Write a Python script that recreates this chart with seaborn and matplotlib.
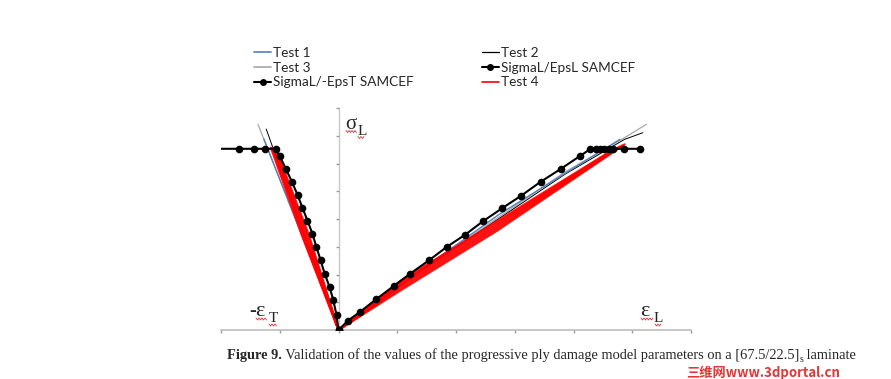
import numpy as np
import pandas as pd
import seaborn as sns
import matplotlib
matplotlib.use("Agg")
import matplotlib.pyplot as plt
from matplotlib.lines import Line2D

# ---------------- data ----------------
# SAMCEF model, sigma_L vs -eps_T (left branch)
samcef_T_x = [-2.0, -1.70, -1.43, -1.25, -1.06, -1.00, -0.895, -0.793, -0.697,
              -0.613, -0.528, -0.444, -0.376, -0.304, -0.236, -0.152, -0.089,
              -0.034, 0.0]
samcef_T_y = [6.53, 6.53, 6.53, 6.53, 6.53, 6.27, 5.80, 5.34, 4.87,
              4.40, 3.94, 3.47, 2.99, 2.51, 2.03, 1.55, 1.08,
              0.54, 0.0]
# SAMCEF model, sigma_L vs eps_L (right branch)
samcef_L_x = [0.0, 0.157, 0.371, 0.636, 0.945, 1.22, 1.54, 1.84, 2.16, 2.46,
              2.78, 3.11, 3.44, 3.78, 4.11, 4.28, 4.38, 4.45, 4.52, 4.60,
              4.67, 4.86, 5.14]
samcef_L_y = [0.0, 0.33, 0.66, 1.10, 1.59, 2.03, 2.51, 2.99, 3.44, 3.92,
              4.38, 4.84, 5.34, 5.80, 6.27, 6.51, 6.53, 6.53, 6.53, 6.53,
              6.53, 6.53, 6.53]

# Tests (left branch -> origin -> right branch)
test1_x = [-1.27, -0.62, 0.0, 1.35, 2.73, 4.79]
test1_y = [6.88, 3.40, 0.0, 2.08, 4.16, 6.87]
test2_x = [-1.23, -0.60, 0.0, 1.35, 3.86, 4.87, 5.18]
test2_y = [7.24, 3.50, 0.0, 2.05, 5.62, 6.87, 7.11]
test3_x = [-1.37, -0.66, 0.0, 1.35, 3.86, 4.87, 5.24]
test3_y = [7.41, 3.60, 0.0, 2.08, 5.70, 6.93, 7.41]
# Test 4 : several specimens drawn in red
test4_x = [[-1.15, -0.62, 0.0, 1.05, 2.70, 4.87],
           [-1.13, -0.595, 0.0, 1.05, 2.70, 4.83],
           [-1.11, -0.57, 0.0, 1.05, 2.70, 4.79],
           [-1.09, -0.545, 0.0, 1.05, 2.70, 4.75],
           [-1.07, -0.52, 0.0, 1.05, 2.70, 4.71],
           [-1.05, -0.50, 0.0, 1.05, 2.70, 4.67]]
test4_y = [[6.57, 3.40, 0.0, 1.42, 3.58, 6.69],
           [6.55, 3.40, 0.0, 1.49, 3.65, 6.65],
           [6.53, 3.40, 0.0, 1.56, 3.72, 6.61],
           [6.50, 3.40, 0.0, 1.63, 3.79, 6.57],
           [6.47, 3.40, 0.0, 1.70, 3.86, 6.53],
           [6.44, 3.40, 0.0, 1.76, 3.92, 6.49]]

x_ticks = [-2, -1, 0, 1, 2, 3, 4, 5, 6]
y_ticks = [1, 2, 3, 4, 5, 6, 7, 8]

# ---------------- figure ----------------
sns.set_theme(style="white")
plt.rcParams['font.family'] = ['Lato', 'DejaVu Sans']

W, H = 891, 379
fig = plt.figure(figsize=(W / 100, H / 100), dpi=100)
fx = lambda px: px / W
fy = lambda py: 1 - py / H

ax = fig.add_axes([fx(221), fy(330), fx(691) - fx(221), fy(108) - fy(330)])

BLUE = "#4F81BD"
GRAY = "#A6A6A6"
RED = "#FF0000"

for i, (xs, ys) in enumerate(zip(test4_x, test4_y)):
    sns.lineplot(x=xs, y=ys, sort=False, estimator=None, ax=ax, color=RED,
                 lw=1.6, alpha=0.9, zorder=3)
sns.lineplot(x=test3_x, y=test3_y, sort=False, estimator=None, ax=ax,
             color=GRAY, lw=0.9, zorder=2)
sns.lineplot(x=test2_x, y=test2_y, sort=False, estimator=None, ax=ax,
             color="black", lw=0.7, zorder=2)
sns.lineplot(x=test1_x, y=test1_y, sort=False, estimator=None, ax=ax,
             color=BLUE, lw=1.0, zorder=2)
sns.lineplot(x=samcef_T_x, y=samcef_T_y, sort=False, estimator=None, ax=ax,
             color="black", lw=1.5, marker="o", markersize=5.5,
             markeredgewidth=0, markevery=list(range(1, len(samcef_T_x))),
             zorder=4)
sns.lineplot(x=samcef_L_x, y=samcef_L_y, sort=False, estimator=None, ax=ax,
             color="black", lw=1.5, marker="o", markersize=5.5,
             markeredgewidth=0, zorder=4)

ax.set_xlim(-2, 6)
ax.set_ylim(0, 8)
ax.set_xticks(x_ticks)
ax.set_yticks(y_ticks)
ax.set_xticklabels([])
ax.set_yticklabels([])
ax.set_xlabel("")
ax.set_ylabel("")
for s in ["top", "right"]:
    ax.spines[s].set_visible(False)
ax.spines["left"].set_position(("data", 0))
ax.spines["left"].set_color("#C8C8C8")
ax.spines["bottom"].set_color("#BDBDBD")
ax.spines["left"].set_linewidth(1.0)
ax.spines["bottom"].set_linewidth(1.2)
ax.spines["left"].set_zorder(0)
ax.tick_params(axis="both", direction="out", length=2, width=1,
               color="#9A9A9A", bottom=True, left=True)
ax.set_facecolor("none")

# ---------------- legend ----------------
h = lambda **kw: Line2D([], [], **kw)
handles = [h(color=BLUE, lw=1.2),
           h(color=GRAY, lw=1.2),
           h(color="black", lw=1.5, marker="o", markersize=5, markeredgewidth=0),
           h(color="black", lw=0.9),
           h(color="black", lw=1.5, marker="o", markersize=5, markeredgewidth=0),
           h(color=RED, lw=1.2)]
labels = ["Test 1", "Test 3", "SigmaL/-EpsT SAMCEF",
          "Test 2", "SigmaL/EpsL SAMCEF", "Test 4"]
fig.legend(handles, labels, ncol=2, loc="upper left",
           bbox_to_anchor=(fx(254), fy(47)), frameon=False, borderpad=0,
           fontsize=9.8, handlelength=1.25, handletextpad=0.15,
           labelspacing=0.2, columnspacing=5.0, borderaxespad=0)

# ---------------- axis symbols ----------------
serif = "Liberation Serif"
fig.text(fx(345), fy(128.5), "σ", family=serif, fontsize=15, va="baseline")
fig.text(fx(358), fy(135), "L", family=serif, fontsize=11, va="baseline")
fig.text(fx(249), fy(316.5), "-", family=serif, fontsize=15, va="baseline",
         weight="bold")
fig.text(fx(255), fy(316.5), "ε", family=serif, fontsize=16, va="baseline")
fig.text(fx(269), fy(322.5), "T", family=serif, fontsize=11, va="baseline")
fig.text(fx(640), fy(316.5), "ε", family=serif, fontsize=16, va="baseline")
fig.text(fx(654), fy(322.5), "L", family=serif, fontsize=11, va="baseline")


def wavy(x0, x1, y, amp=1.0):
    xs = np.arange(x0, x1 + 0.1, 1.5)
    ys = [y + (amp if k % 2 else -amp) for k in range(len(xs))]
    fig.add_artist(Line2D([fx(v) for v in xs], [fy(v) for v in ys],
                          transform=fig.transFigure, color="#E03030", lw=0.6))


wavy(346, 357, 131.5)
wavy(358, 365, 137.5)
wavy(256, 267, 319)
wavy(269, 277, 325)
wavy(641, 653, 319)
wavy(655, 662, 325)

# ---------------- caption ----------------
renderer = fig.canvas.get_renderer()
cap_pieces = [("Figure 9.", dict(weight="bold"), 1.0, 0),
              (" Validation of the values of the progressive ply damage "
               "model parameters on a [67.5/22.5]", dict(), 1.0, 0),
              ("s", dict(), 0.7, 3),
              (" laminate", dict(), 1.0, 0)]


def chain(x_px, y_px, base_fs):
    x = fx(x_px)
    made = []
    for txt, kw, rel, dy in cap_pieces:
        t = fig.text(x, fy(y_px + dy), txt, family=serif, va="baseline",
                     fontsize=base_fs * rel, **kw)
        made.append(t)
        bb = t.get_window_extent(renderer=renderer)
        x = fig.transFigure.inverted().transform((bb.x1, bb.y0))[0]
    return made, x * W - x_px


made, width = chain(227, 359, 11.0)
for t in made:
    t.remove()
fs = 11.0 * 631 / width
chain(227, 359, fs)

fig.text(fx(686), fy(377), "三维网www.3dportal.cn",
         family=["Noto Sans CJK SC", "DejaVu Sans"], fontsize=9.5,
         color="#E02020", va="baseline", weight="bold", alpha=0.9)

fig.savefig("out.png", dpi=100)
